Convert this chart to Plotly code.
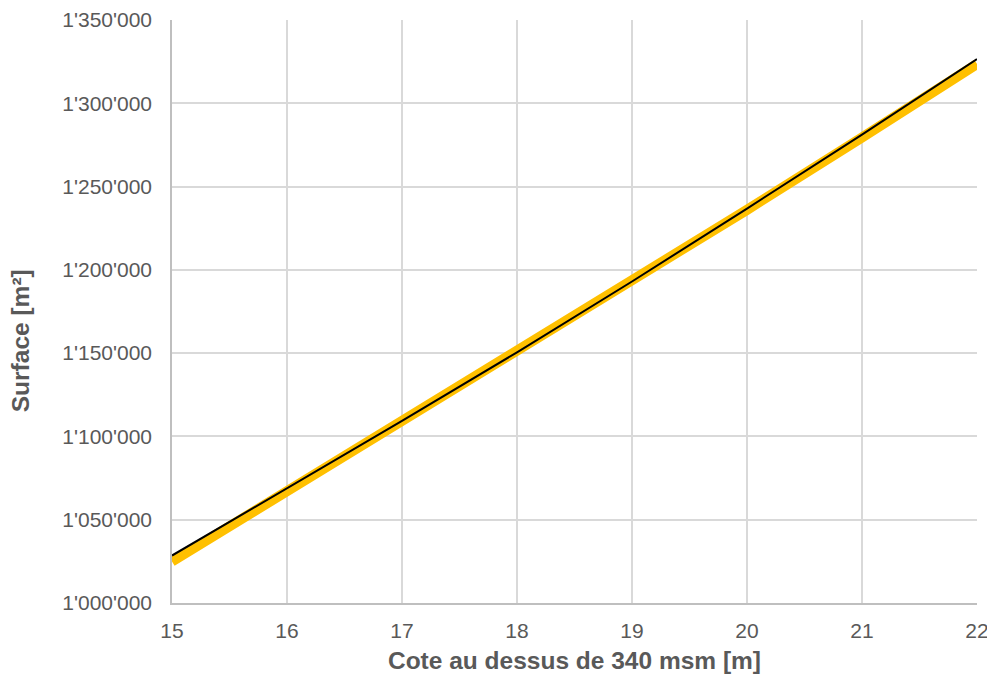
import plotly.graph_objects as go

# elevation above 340 msm [m]
cote = [15, 16, 17, 18, 19, 20, 21, 22]
# surface curves [m2]
surface_jaune = [1024900, 1067000, 1108500, 1150500, 1193000, 1236000, 1279500, 1323600]
surface_noire = [1028500, 1068800, 1109300, 1150500, 1193000, 1236800, 1281200, 1326500]

y_ticks = [1000000, 1050000, 1100000, 1150000, 1200000, 1250000, 1300000, 1350000]

grey_txt = "#595959"
grid = "#D9D9D9"

fig = go.Figure()
fig.add_trace(go.Scatter(x=cote, y=surface_jaune, mode="lines",
                         line=dict(color="#FFC000", width=10), showlegend=False))
fig.add_trace(go.Scatter(x=cote, y=surface_noire, mode="lines",
                         line=dict(color="#000000", width=2), showlegend=False))

# page body has an 8px margin, so margins are shifted accordingly
fig.update_layout(
    width=995, height=675,
    margin=dict(l=164, r=26, t=12, b=80),
    paper_bgcolor="white", plot_bgcolor="white",
    separators=".'",
    font=dict(family="Liberation Sans, Arial, sans-serif", size=21, color=grey_txt),
    xaxis=dict(range=[15, 22], dtick=1, tick0=15, automargin=False,
               showgrid=True, gridcolor=grid, gridwidth=1.5,
               showline=True, linecolor="#BFBFBF", linewidth=1.5,
               zeroline=False, ticks="", ticklabelstandoff=8,
               title=dict(text="<b>Cote au dessus de 340 msm [m]</b>",
                          font=dict(size=24.5, color=grey_txt), standoff=11)),
    yaxis=dict(range=[1000000, 1350000], tickvals=y_ticks, tickformat=",d",
               automargin=False,
               showgrid=True, gridcolor=grid, gridwidth=1.5,
               showline=True, linecolor="#BFBFBF", linewidth=1.5,
               zeroline=False, ticks="", ticklabelstandoff=14),
)

# y title placed a bit below the plot centre, as in the original
fig.add_annotation(text="<b>Surface [m²]</b>", textangle=-90,
                   xref="paper", yref="paper", x=0, y=0.449,
                   xanchor="center", yanchor="middle", xshift=-152,
                   showarrow=False, font=dict(size=24.5, color=grey_txt))

fig.write_html("out.html")
